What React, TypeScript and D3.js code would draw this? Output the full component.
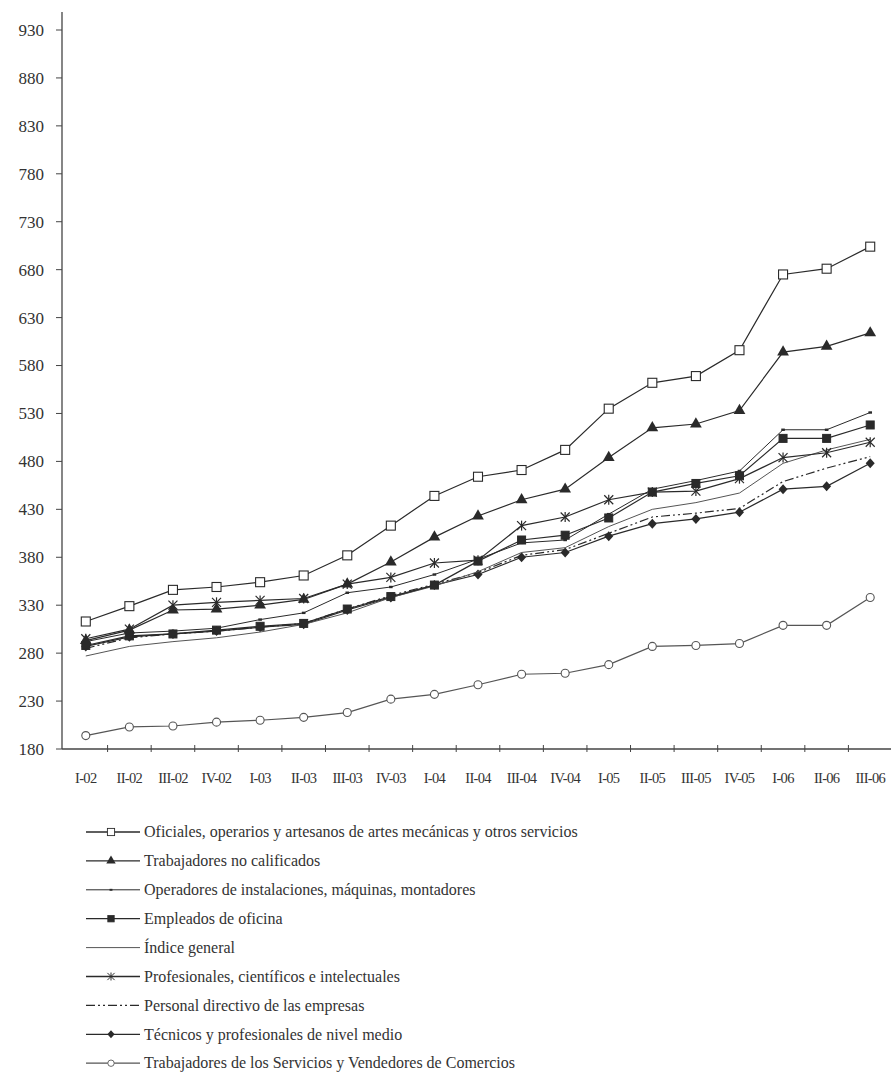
import React from "react";
import * as d3 from "d3";

const categories = ["I-02","II-02","III-02","IV-02","I-03","II-03","III-03","IV-03","I-04","II-04","III-04","IV-04","I-05","II-05","III-05","IV-05","I-06","II-06","III-06"];
const yTicks = [180,230,280,330,380,430,480,530,580,630,680,730,780,830,880,930];

const oficiales = [313,329,346,349,354,361,382,413,444,464,471,492,535,562,569,596,675,681,704];
const noCalificados = [293,304,325,326,330,336,352,375,401,423,440,451,484,515,519,533,594,600,614];
const operadores = [292,301,303,306,315,322,343,349,362,378,395,398,425,451,460,470,513,513,531];
const empleados = [288,298,300,304,308,311,326,339,351,376,398,403,421,448,457,465,504,504,518];
const indiceGeneral = [277,287,292,296,302,310,322,338,350,365,385,390,412,430,437,447,478,492,503];
const profesionales = [295,305,330,333,335,337,352,359,374,377,413,422,440,448,449,462,484,489,500];
const directivos = [285,296,300,303,307,311,326,340,352,364,382,388,405,422,426,431,459,473,485];
const tecnicos = [287,297,300,303,307,310,325,338,351,362,380,385,402,415,420,427,451,454,478];
const servicios = [194,203,204,208,210,213,218,232,237,247,258,259,268,287,288,290,309,309,338];

const seriesNames = [
  "Oficiales, operarios y artesanos de artes mecánicas y otros servicios",
  "Trabajadores no calificados",
  "Operadores de instalaciones, máquinas, montadores",
  "Empleados de oficina",
  "Índice general",
  "Profesionales, científicos e intelectuales",
  "Personal directivo de las empresas",
  "Técnicos y profesionales de nivel medio",
  "Trabajadores de los Servicios y Vendedores de Comercios",
];
const seriesValues = [oficiales, noCalificados, operadores, empleados, indiceGeneral, profesionales, directivos, tecnicos, servicios];
const seriesMarkers = ["openSquare","triangle","dot","square","none","asterisk","none","diamond","openCircle"];

const INK = "#2a2a2a";

function Marker({ type, x, y }: { type: string; x: number; y: number }) {
  switch (type) {
    case "openSquare":
      return <rect x={x - 4.5} y={y - 4.5} width={9} height={9} fill="#fff" stroke={INK} strokeWidth={1.1} />;
    case "square":
      return <rect x={x - 4} y={y - 4} width={8} height={8} fill={INK} stroke={INK} strokeWidth={1} />;
    case "triangle":
      return <path d={d3.symbol(d3.symbolTriangle, 60)() as string} transform={`translate(${x},${y})`} fill={INK} />;
    case "diamond":
      return <path d={`M${x},${y - 5}L${x + 4.5},${y}L${x},${y + 5}L${x - 4.5},${y}Z`} fill={INK} />;
    case "dot":
      return <rect x={x - 1.8} y={y - 1.2} width={3.6} height={2.4} fill={INK} />;
    case "asterisk":
      return (
        <g stroke={INK} strokeWidth={1.2}>
          <line x1={x - 4.5} y1={y - 4.5} x2={x + 4.5} y2={y + 4.5} />
          <line x1={x - 4.5} y1={y + 4.5} x2={x + 4.5} y2={y - 4.5} />
          <line x1={x} y1={y - 5} x2={x} y2={y + 5} />
        </g>
      );
    case "openCircle":
      return <circle cx={x} cy={y} r={4} fill="#fff" stroke="#555" strokeWidth={1.1} />;
    default:
      return null;
  }
}

export default function App() {
  const W = 891, H = 1073;
  const x = d3.scaleBand<string>().domain(categories).range([64, 892]);
  const y = d3.scaleLinear().domain([180, 930]).range([749, 30]);
  const cx = (c: string) => (x(c) as number) + x.bandwidth() / 2;
  const line = d3.line<number>().x((_, i) => cx(categories[i])).y((v) => y(v));
  const serif = "'Liberation Serif', 'Times New Roman', serif";

  const order = [8, 7, 6, 4, 2, 3, 5, 1, 0];

  return (
    <svg width={W} height={H} style={{ position: "absolute", left: 0, top: 0, background: "#fff" }} fontFamily={serif}>
      <rect width={W} height={H} fill="#fff" />
      {/* Y axis */}
      <line x1={62} y1={12} x2={62} y2={749} stroke="#444" strokeWidth={1.3} />
      {yTicks.map((t) => (
        <g key={t}>
          <line x1={56} x2={62} y1={y(t)} y2={y(t)} stroke="#444" strokeWidth={1} />
          <text x={44} y={y(t)} dy="0.35em" textAnchor="end" fontSize={17} fill="#333">{t}</text>
        </g>
      ))}
      {/* X axis */}
      <line x1={62} y1={749} x2={891} y2={749} stroke="#444" strokeWidth={1.3} />
      {categories.map((c, i) => (
        <g key={c}>
          {i > 0 && <line x1={x(c)} x2={x(c)} y1={745} y2={752} stroke="#444" strokeWidth={1} />}
          <text x={cx(c)} y={783} textAnchor="middle" fontSize={14.5} letterSpacing={-0.7} fill="#333">{c}</text>
        </g>
      ))}
      {/* Series */}
      {order.map((si) => {
        const vals = seriesValues[si];
        const m = seriesMarkers[si];
        const dash = si === 6 ? "9,3,2,3,2,3" : undefined;
        const sw = si === 4 || si === 2 ? 1 : 1.2;
        const col = si === 8 || si === 4 ? "#555" : INK;
        return (
          <g key={si}>
            <path d={line(vals) as string} fill="none" stroke={col} strokeWidth={sw} strokeDasharray={dash} />
            {m !== "none" && vals.map((v, i) => <Marker key={i} type={m} x={cx(categories[i])} y={y(v)} />)}
          </g>
        );
      })}
      {/* Legend */}
      {seriesNames.map((name, i) => {
        const ly = 832 + i * 28.9;
        const m = seriesMarkers[i];
        const dash = i === 6 ? "9,3,2,3,2,3" : undefined;
        const col = i === 8 || i === 4 ? "#555" : INK;
        return (
          <g key={name}>
            <line x1={86} x2={140} y1={ly} y2={ly} stroke={col} strokeWidth={i === 4 || i === 2 ? 1 : 1.3} strokeDasharray={dash} />
            {m !== "none" && (
              <g transform={`translate(${111},${ly}) scale(0.8) translate(${-111},${-ly})`}>
                <Marker type={m} x={111} y={ly} />
              </g>
            )}
            <text x={144} y={ly} dy="0.33em" fontSize={16} fill="#333">{name}</text>
          </g>
        );
      })}
    </svg>
  );
}
